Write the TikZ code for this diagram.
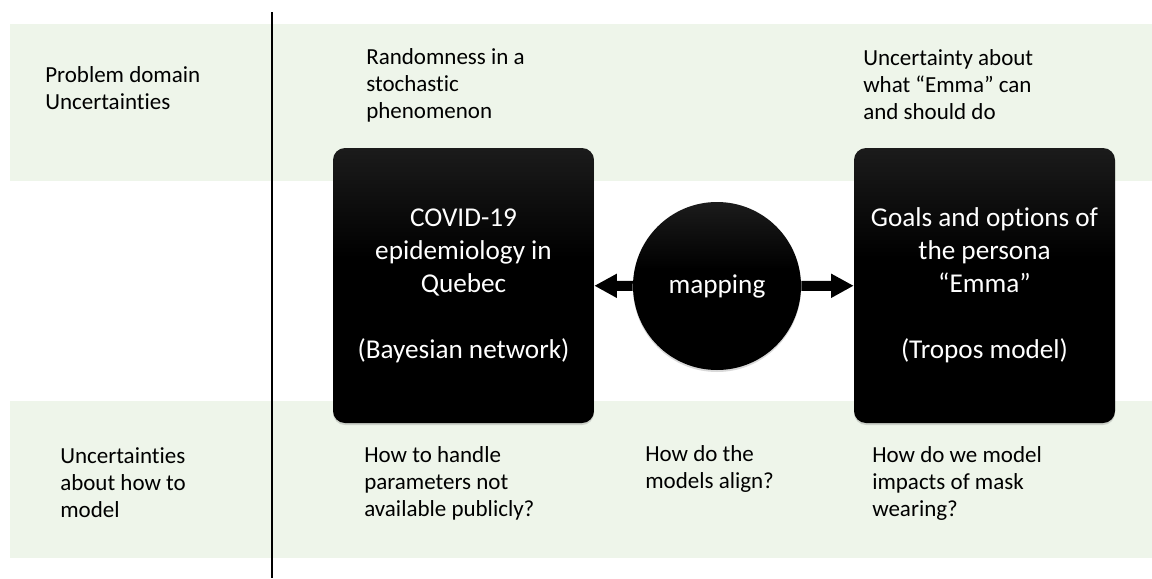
\documentclass[tikz,border=0pt]{standalone}
\usepackage{fontspec}
\setmainfont[Ligatures=NoCommon]{Carlito}
\usetikzlibrary{arrows.meta,shadows}
\definecolor{bandgreen}{RGB}{238,245,234}
\pgfdeclareverticalshading{darktop}{100bp}{color(0bp)=(black); color(55bp)=(black); color(100bp)=(black!76)}
\tikzset{
  lbl/.style={anchor=west,align=left,inner sep=0pt,font=\fontsize{17.25}{20.25}\selectfont},
  modelbox/.style={rounded corners=9pt,minimum width=195.75pt,minimum height=206.25pt,
    shading=darktop,text=white,align=center,
    font=\fontsize{20.4}{24.75}\selectfont,
    drop shadow={opacity=0.3,shadow xshift=0pt,shadow yshift=-1.5pt}},
  mapcircle/.style={circle,minimum size=126pt,inner sep=0pt,
    shading=darktop,text=white,
    font=\fontsize{20.4}{24.75}\selectfont,
    drop shadow={opacity=0.3,shadow xshift=0pt,shadow yshift=-1.5pt}},
  fatarrow/.style={-{Triangle[length=17pt,width=17pt]},line width=7.5pt}
}
\begin{document}
\begin{tikzpicture}[x=0.75pt,y=-0.75pt]
\useasboundingbox (0,0) rectangle (1152,578);
% bands
\fill[bandgreen] (10,24) rectangle (1152,181);
\fill[bandgreen] (10,401) rectangle (1152,558);
\draw[line width=1.5pt] (272,12) -- (272,578);
% row labels
\node[lbl] (domain) at (45,88) {Problem domain\\Uncertainties};
\node[lbl] (howmodel) at (60,483) {Uncertainties\\about how to\\model};
% models
\node[modelbox] (covid) at (463.5,285.5) {COVID-19\\epidemiology in\\Quebec\\\mbox{}\\(Bayesian network)};
\node[modelbox] (emma) at (984.5,285.5) {Goals and options of\\the persona\\“Emma”\\\mbox{}\\(Tropos model)};
\node[mapcircle] (map) at (717,286) {mapping};
\draw[fatarrow] (map) -- (covid);
\draw[fatarrow] (map) -- (emma);
% uncertainties
\node[lbl] (random) at (366,85) {Randomness in a\\stochastic\\phenomenon};
\node[lbl] (canshould) at (863,85) {Uncertainty about\\what “Emma” can\\and should do};
\node[lbl] (params) at (364,483) {How to handle\\parameters not\\available publicly?};
\node[lbl] (align) at (645,469) {How do the\\models align?};
\node[lbl] (mask) at (872,483) {How do we model\\impacts of mask\\wearing?};
\end{tikzpicture}
\end{document}
